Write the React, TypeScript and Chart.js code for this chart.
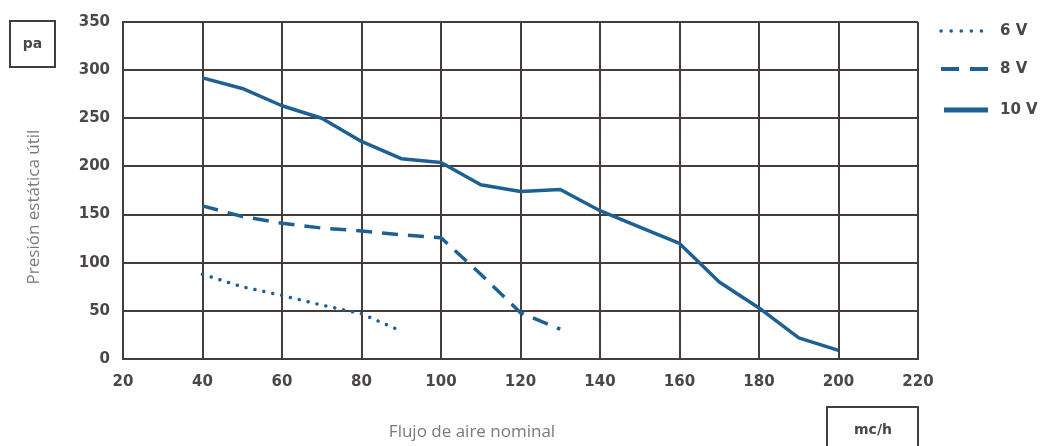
import { useEffect, useRef } from "react";
import { Chart, registerables } from "chart.js";

Chart.register(...registerables);

// ---- data ----
const seriesLabels = ["6 V", "8 V", "10 V"];

const flow6V = [40, 50, 60, 70, 80, 90];
const pressure6V = [88, 75, 66, 56, 47, 29];

const flow8V = [40, 50, 60, 70, 80, 90, 100, 110, 120, 130];
const pressure8V = [159, 148, 141, 136, 133, 129, 126, 88, 48, 31];

const flow10V = [40, 50, 60, 70, 80, 90, 100, 110, 120, 130, 140, 150, 160, 170, 180, 190, 200];
const pressure10V = [292, 281, 263, 250, 226, 208, 204, 181, 174, 176, 154, 137, 120, 80, 53, 22, 9];

const xMin = 20;
const xMax = 220;
const xStep = 20;
const yMin = 0;
const yMax = 350;
const yStep = 50;

const yAxisTitle = "Presión estática útil";
const xAxisTitle = "Flujo de aire nominal";
const yUnit = "pa";
const xUnit = "mc/h";

// ---- styles ----
const LINE_COLOR = "#1f6092";
const GRID_COLOR = "#463c3c";
const TICK_COLOR = "#4d4646";
const TITLE_COLOR = "#7a7a7a";
const TICK_FONT = "DejaVu Sans";
const TITLE_FONT = "Open Sans";

const toPoints = (xs: number[], ys: number[]) => xs.map((x, i) => ({ x, y: ys[i] }));

const legendStyles = [
  { y: 31, x0: 941, x1: 988, width: 3.5, dash: [0.1, 10], cap: "round" as CanvasLineCap },
  { y: 69, x0: 941, x1: 988, width: 4, dash: [18, 11], cap: "butt" as CanvasLineCap },
  { y: 110, x0: 944, x1: 988, width: 5, dash: [] as number[], cap: "butt" as CanvasLineCap },
];

const decorPlugin = {
  id: "decor",
  afterDraw(chart: any) {
    const ctx: CanvasRenderingContext2D = chart.ctx;
    ctx.save();

    // unit boxes
    ctx.strokeStyle = GRID_COLOR;
    ctx.lineWidth = 2;
    ctx.strokeRect(10, 21, 45, 46);
    ctx.strokeRect(827, 407, 91, 50);
    ctx.fillStyle = TICK_COLOR;
    ctx.font = `bold 14px "${TICK_FONT}"`;
    ctx.textAlign = "center";
    ctx.textBaseline = "middle";
    ctx.fillText(yUnit, 32.5, 44);
    ctx.fillText(xUnit, 873, 430);

    // axis titles
    ctx.fillStyle = TITLE_COLOR;
    ctx.font = `17px "${TITLE_FONT}"`;
    ctx.fillText(xAxisTitle, 472, 432);
    ctx.save();
    ctx.translate(34, 207);
    ctx.rotate(-Math.PI / 2);
    ctx.font = `17px "${TITLE_FONT}"`;
    ctx.fillText(yAxisTitle, 0, 0);
    ctx.restore();

    // legend
    chart.data.datasets.forEach((ds: any, i: number) => {
      const s = legendStyles[i];
      ctx.beginPath();
      ctx.strokeStyle = ds.borderColor;
      ctx.lineWidth = s.width;
      ctx.lineCap = s.cap;
      ctx.setLineDash(s.dash);
      ctx.moveTo(s.x0, s.y);
      ctx.lineTo(s.x1, s.y);
      ctx.stroke();
      ctx.setLineDash([]);
      ctx.fillStyle = TICK_COLOR;
      ctx.font = `bold 15px "${TICK_FONT}"`;
      ctx.textAlign = "left";
      ctx.textBaseline = "middle";
      ctx.fillText(ds.label, 1000, s.y);
    });

    ctx.restore();
  },
};

export default function App() {
  const canvasRef = useRef<HTMLCanvasElement | null>(null);

  useEffect(() => {
    const canvas = canvasRef.current;
    if (!canvas) return;
    const chart = new Chart(canvas, {
      type: "line",
      data: {
        datasets: [
          {
            label: seriesLabels[0],
            data: toPoints(flow6V, pressure6V),
            borderColor: LINE_COLOR,
            borderWidth: 3.5,
            borderDash: [0.1, 9],
            borderCapStyle: "round",
            pointRadius: 0,
            tension: 0,
          },
          {
            label: seriesLabels[1],
            data: toPoints(flow8V, pressure8V),
            borderColor: LINE_COLOR,
            borderWidth: 3.5,
            borderDash: [16, 10],
            pointRadius: 0,
            tension: 0,
          },
          {
            label: seriesLabels[2],
            data: toPoints(flow10V, pressure10V),
            borderColor: LINE_COLOR,
            borderWidth: 3.5,
            borderJoinStyle: "round",
            pointRadius: 0,
            tension: 0,
          },
        ],
      },
      options: {
        animation: false,
        responsive: false,
        maintainAspectRatio: false,
        devicePixelRatio: 1,
        layout: { padding: { left: 0, right: 1040 - 918, top: 22, bottom: 0 } },
        plugins: {
          legend: { display: false },
          tooltip: { enabled: false },
          title: { display: false },
        },
        scales: {
          x: {
            type: "linear",
            min: xMin,
            max: xMax,
            ticks: {
              stepSize: xStep,
              color: TICK_COLOR,
              font: { family: TICK_FONT, size: 15, weight: "bold" },
              padding: 14,
              maxRotation: 0,
            },
            grid: { color: GRID_COLOR, lineWidth: 2, drawTicks: false },
            border: { color: GRID_COLOR, width: 2 },
            afterFit: (scale: any) => {
              scale.height = 446 - 359;
            },
          },
          y: {
            type: "linear",
            min: yMin,
            max: yMax,
            ticks: {
              stepSize: yStep,
              color: TICK_COLOR,
              font: { family: TICK_FONT, size: 15, weight: "bold" },
              padding: 13,
            },
            grid: { color: GRID_COLOR, lineWidth: 2, drawTicks: false },
            border: { color: GRID_COLOR, width: 2 },
            afterFit: (scale: any) => {
              scale.width = 123;
            },
          },
        },
      },
      plugins: [decorPlugin],
    });
    return () => chart.destroy();
  }, []);

  return (
    <div style={{ position: "fixed", left: 0, top: 0, width: 1040, height: 446, background: "#fff" }}>
      <canvas ref={canvasRef} width={1040} height={446} style={{ display: "block", width: 1040, height: 446 }} />
    </div>
  );
}
